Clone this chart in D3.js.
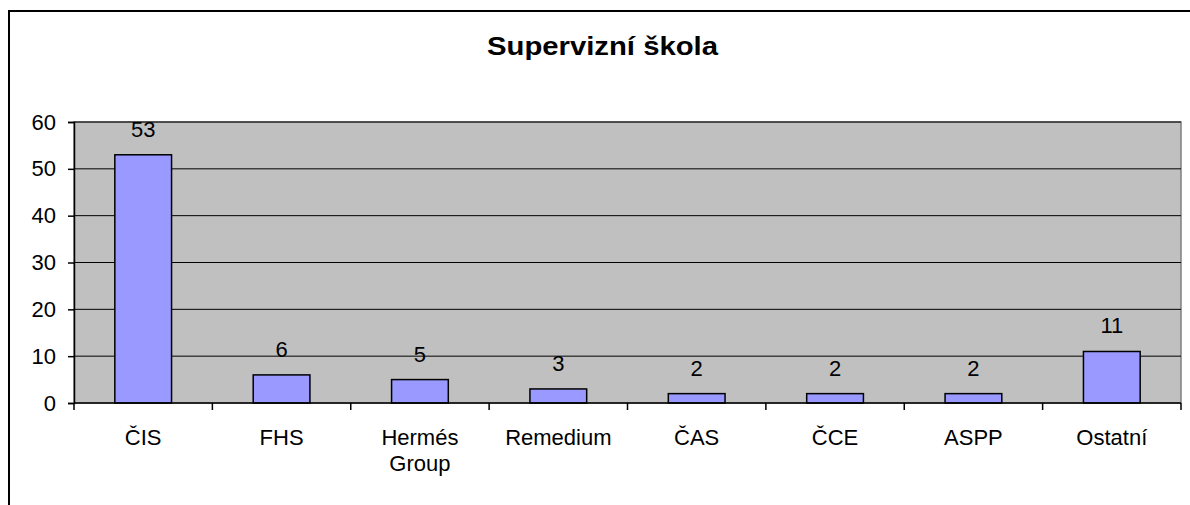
<!DOCTYPE html>
<html>
<head>
<meta charset="utf-8">
<script src="https://cdn.jsdelivr.net/npm/d3@7"></script>
<style>
  body { margin: 0; background: #fff; }
  text { font-family: "Liberation Sans", Arial, sans-serif; fill: #000; }
</style>
</head>
<body>
<div id="chart"></div>
<script>
// data
var categories = ['ČIS', 'FHS', 'Hermés Group', 'Remedium', 'ČAS', 'ČCE', 'ASPP', 'Ostatní'];
var values = [53, 6, 5, 3, 2, 2, 2, 11];
var yTicks = [0, 10, 20, 30, 40, 50, 60];
var title = 'Supervizní škola';

var W = 1190, H = 505;
var plot = {left: 74, top: 122, right: 1181, bottom: 403};

var svg = d3.select('#chart').append('svg')
  .attr('width', W)
  .attr('height', H);

// outer frame
svg.append('rect')
  .attr('x', 9).attr('y', 11)
  .attr('width', W + 20).attr('height', H + 20)
  .attr('fill', '#fff')
  .attr('stroke', '#000')
  .attr('stroke-width', 2);

svg.append('text')
  .attr('x', 487).attr('y', 55)
  .attr('textLength', 231)
  .attr('lengthAdjust', 'spacingAndGlyphs')
  .style('font-size', '25.5px')
  .style('font-weight', 'bold')
  .text(title);

var x = d3.scaleBand()
  .domain(categories)
  .range([plot.left, plot.right])
  .paddingInner(0).paddingOuter(0);

var y = d3.scaleLinear()
  .domain([0, 60])
  .range([plot.bottom, plot.top]);

// plot background
svg.append('rect')
  .attr('x', plot.left).attr('y', plot.top)
  .attr('width', plot.right - plot.left)
  .attr('height', plot.bottom - plot.top)
  .attr('fill', '#c0c0c0')
  .attr('stroke', '#808080')
  .attr('stroke-width', 1.5);

// gridlines
svg.append('g')
  .selectAll('line')
  .data(yTicks.filter(function(d) { return d > 0; }))
  .enter().append('line')
  .attr('x1', plot.left).attr('x2', plot.right)
  .attr('y1', function(d) { return y(d); })
  .attr('y2', function(d) { return y(d); })
  .attr('stroke', '#000')
  .attr('stroke-width', 1);

// bars
var bw = x.bandwidth() * 0.41;
svg.append('g')
  .selectAll('rect')
  .data(values)
  .enter().append('rect')
  .attr('x', function(d, i) { return x(categories[i]) + x.bandwidth() / 2 - bw / 2; })
  .attr('y', function(d) { return y(d); })
  .attr('width', bw)
  .attr('height', function(d) { return y(0) - y(d); })
  .attr('fill', '#9999ff')
  .attr('stroke', '#000')
  .attr('stroke-width', 1.5);

// value labels
svg.append('g')
  .selectAll('text')
  .data(values)
  .enter().append('text')
  .attr('x', function(d, i) { return x(categories[i]) + x.bandwidth() / 2; })
  .attr('y', function(d) { return y(d) - 18; })
  .attr('text-anchor', 'middle')
  .style('font-size', '22px')
  .text(function(d) { return d; });

// y axis
var yAxis = d3.axisLeft(y)
  .tickValues(yTicks)
  .tickSize(6)
  .tickPadding(12);

var gy = svg.append('g')
  .attr('transform', 'translate(' + plot.left + ',0)')
  .call(yAxis);
gy.select('.domain').attr('stroke', '#000').attr('stroke-width', 1.5);
gy.selectAll('.tick line').attr('stroke', '#000').attr('stroke-width', 1.5);
gy.selectAll('.tick text')
  .style('font-size', '22px')
  .style('font-family', '"Liberation Sans", Arial, sans-serif')
  .attr('fill', '#000');

// x axis
var bounds = categories.map(function(c) { return x(c); }).concat([plot.right]);
var gx = svg.append('g');
gx.append('line')
  .attr('x1', plot.left).attr('x2', plot.right)
  .attr('y1', plot.bottom).attr('y2', plot.bottom)
  .attr('stroke', '#000').attr('stroke-width', 1.5);
gx.selectAll('line.tk')
  .data(bounds)
  .enter().append('line')
  .attr('class', 'tk')
  .attr('x1', function(d) { return d; })
  .attr('x2', function(d) { return d; })
  .attr('y1', plot.bottom).attr('y2', plot.bottom + 7)
  .attr('stroke', '#000').attr('stroke-width', 1.5);

gx.selectAll('text')
  .data(categories)
  .enter().append('text')
  .attr('x', function(d) { return x(d) + x.bandwidth() / 2; })
  .attr('y', 445)
  .attr('text-anchor', 'middle')
  .style('font-size', '22px')
  .each(function(d) {
    var parts = d === 'Hermés Group' ? ['Hermés', 'Group'] : [d];
    var t = d3.select(this);
    parts.forEach(function(p, i) {
      t.append('tspan')
        .attr('x', t.attr('x'))
        .attr('dy', i === 0 ? 0 : 26)
        .text(p);
    });
  });
</script>
</body>
</html>
